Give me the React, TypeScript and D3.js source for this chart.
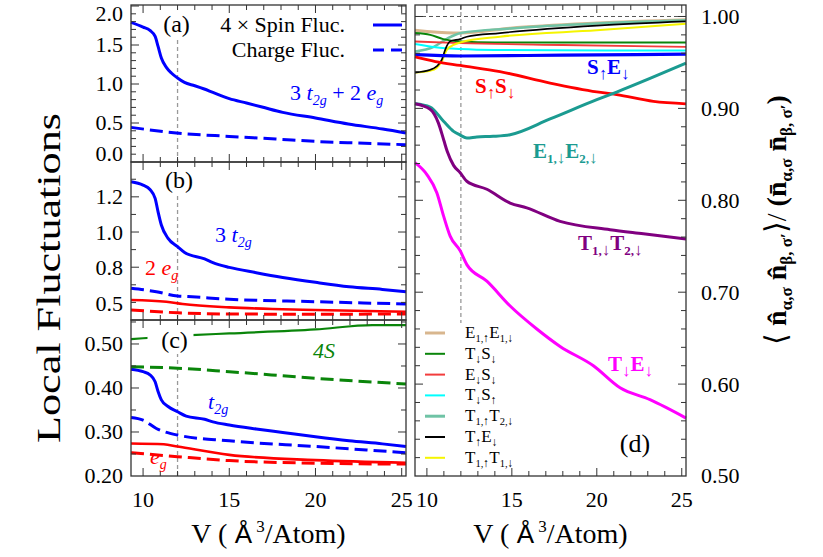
import React from "react";
import * as d3 from "d3";

type Pt = [number, number];

// ---------------- data ----------------
const X_DOMAIN: [number, number] = [9.3, 25.25];
const X_TICK_LABELS = [10, 15, 20, 25];
const V_MARK = 12;

const A_TICKS = [0, 0.5, 1.0, 1.5, 2.0];
const B_TICKS = [0.5, 0.8, 1.0, 1.2];
const C_TICKS = [0.2, 0.3, 0.4, 0.5];
const D_TICKS = [0.5, 0.6, 0.7, 0.8, 0.9, 1.0];

// (a) 3 t2g + 2 eg
const spinTotal: Pt[] = [[9.3,1.79],[10,1.73],[10.4,1.687],[10.7,1.61],[10.87,1.482],[11.06,1.333],[11.35,1.213],[11.64,1.141],[12,1.077],[12.4,1.02],[13,0.978],[13.55,0.936],[14.05,0.892],[15,0.812],[16,0.756],[16.9,0.705],[18.1,0.636],[20,0.564],[21.9,0.487],[23.9,0.423],[25.25,0.372]];
const chargeTotal: Pt[] = [[9.3,0.444],[11.93,0.372],[15,0.328],[17.7,0.295],[20,0.264],[22.3,0.244],[25.25,0.222]];

// (b) 3 t2g and 2 eg
const spinT2g3: Pt[] = [[9.3,1.286],[10,1.267],[10.4,1.242],[10.7,1.191],[10.87,1.115],[11.06,1.04],[11.45,0.964],[12,0.917],[12.41,0.884],[13.57,0.847],[14.05,0.826],[15,0.799],[16.56,0.769],[18.1,0.742],[20,0.714],[21.95,0.689],[23.88,0.674],[25.25,0.661]];
const chargeT2g3: Pt[] = [[9.3,0.68],[10.77,0.661],[12,0.636],[12.6,0.633],[15,0.618],[20,0.604],[25.25,0.591]];
const spinEg2: Pt[] = [[9.3,0.614],[11.35,0.604],[12.3,0.591],[15,0.572],[17.5,0.5625],[20,0.557],[25.25,0.547]];
const chargeEg2: Pt[] = [[9.3,0.557],[12,0.541],[15,0.534],[20,0.533],[25.25,0.534]];

// (c) per orbital
const spinT2g: Pt[] = [[9.3,0.4425],[10,0.437],[10.4,0.43],[10.7,0.414],[10.87,0.392],[11.06,0.373],[11.45,0.358],[12,0.346],[12.5,0.336],[13.57,0.329],[14.05,0.323],[15,0.316],[16.56,0.307],[18.1,0.299],[20,0.289],[21.95,0.28],[23.88,0.273],[25.25,0.267]];
const chargeT2g: Pt[] = [[9.3,0.333],[10,0.327],[10.77,0.308],[12,0.293],[15,0.28],[20,0.267],[25.25,0.253]];
const spinEg: Pt[] = [[9.3,0.274],[11.2,0.272],[12,0.267],[15,0.248],[20,0.236],[25.25,0.23]];
const chargeEg: Pt[] = [[9.3,0.253],[12,0.244],[15,0.235],[20,0.229],[25.25,0.227]];
const spin4S: Pt[] = [[9.3,0.511],[10,0.513],[12.8,0.52],[15,0.524],[20,0.533],[23.3,0.543],[25.25,0.543]];
const charge4S: Pt[] = [[9.3,0.448],[12,0.445],[15,0.437],[20,0.422],[25.25,0.409]];

// (d) correlation ratios
const dE1uE1d: Pt[] = [[9.3,0.985],[11.57,0.982],[12,0.982],[14.9,0.9873],[20,0.9928],[25.25,0.9964]];
const dT1uT2d: Pt[] = [[9.3,0.962],[10.4,0.967],[11.2,0.976],[12,0.982],[14.9,0.987],[20,0.9925],[25.25,0.996]];
const dTdSd: Pt[] = [[9.3,0.982],[10.2,0.98],[10.96,0.9754],[11.96,0.9728],[14,0.9718],[25.25,0.9718]];
const dEdSd: Pt[] = [[9.3,0.9728],[12,0.971],[18,0.969],[25.25,0.967]];
const dTdSu: Pt[] = [[9.3,0.97],[10.5,0.9665],[11.96,0.9645],[14,0.9635],[25.25,0.963]];
const dSuEd: Pt[] = [[9.3,0.9584],[12,0.957],[18,0.958],[25.25,0.959]];
const dSuSd: Pt[] = [[9.3,0.956],[10.5,0.951],[11.96,0.9467],[14.3,0.94],[17.25,0.9276],[20,0.918],[21.17,0.915],[23.33,0.9076],[25.25,0.905]];
const dTuEd: Pt[] = [[9.3,0.939],[10.2,0.942],[10.57,0.9457],[10.88,0.953],[11.08,0.964],[11.37,0.973],[11.96,0.9754],[12.35,0.978],[14.3,0.982],[20,0.99],[25.25,0.9946]];
const dT1uT1d: Pt[] = [[9.3,0.939],[10.2,0.941],[10.57,0.944],[10.88,0.9512],[11.18,0.964],[11.57,0.969],[11.96,0.9717],[14.3,0.978],[20,0.985],[25.25,0.992]];
const dE1dE2d: Pt[] = [[9.3,0.905],[10.19,0.9015],[10.98,0.886],[11.57,0.875],[11.96,0.871],[12.35,0.8678],[12.94,0.8689],[13.9,0.8696],[14.9,0.8714],[17.25,0.8885],[20,0.9095],[21.17,0.9178],[23.13,0.9326],[25.25,0.9493]];
const dT1dT2d: Pt[] = [[9.3,0.905],[10.19,0.899],[10.68,0.884],[11.0,0.865],[11.2,0.853],[11.57,0.838],[11.96,0.83],[12.35,0.8207],[13.53,0.812],[14.9,0.797],[15.88,0.7917],[17.84,0.777],[20.78,0.768],[22.74,0.7636],[25.25,0.758]];
const dTdEd: Pt[] = [[9.3,0.841],[10,0.828],[10.59,0.808],[10.98,0.783],[11.37,0.761],[11.96,0.745],[12.35,0.73],[13.53,0.712],[14.9,0.685],[16.47,0.66],[17.84,0.641],[19.8,0.62],[21.37,0.596],[23.13,0.583],[25.25,0.563]];

const LEGEND_D: [string, string][][] = [
  [["E", "1,↑"], ["E", "1,↓"]],
  [["T", "↓"], ["S", "↓"]],
  [["E", "↓"], ["S", "↓"]],
  [["T", "↓"], ["S", "↑"]],
  [["T", "1,↑"], ["T", "2,↓"]],
  [["T", "↑"], ["E", "↓"]],
  [["T", "1,↑"], ["T", "1,↓"]],
];

// ---------------- styles ----------------
const FONT = "'Liberation Serif','Times New Roman',Times,serif";
const BLUE = "#0000ff";
const RED = "#ff0000";
const GREEN = "#0a850a";
const TEAL = "#1b9b91";
const PURPLE = "#800080";
const MAGENTA = "#ff00ff";
const TAN = "#d8b68e";
const SEAFOAM = "#6fc3a5";
const CYAN = "#00ffff";
const YELLOW = "#f5f500";
const THINRED = "#f23c3c";
const FRAME = "#333";
const DASH = "13,6";

const xL = d3.scaleLinear().domain(X_DOMAIN).range([131, 406]);
const xR = d3.scaleLinear().domain(X_DOMAIN).range([415, 686]);
const yA = d3.scaleLinear().domain([0, 2.013]).range([162, 5]);
const yB = d3.scaleLinear().domain([0.5, 1.398]).range([320, 162]);
const yC = d3.scaleLinear().domain([0.2, 0.5545]).range([476, 320]);
const yD = d3.scaleLinear().domain([0.5, 1.0125]).range([476, 5]);

type Scale = d3.ScaleLinear<number, number>;

function pathOf(x: Scale, y: Scale, data: Pt[]) {
  return (
    d3
      .line<Pt>()
      .x((d) => x(d[0]))
      .y((d) => y(d[1]))
      .curve(d3.curveMonotoneX)(data) || ""
  );
}

function Frame({ id, x, y, yMajor, yMinor }: { id: string; x: Scale; y: Scale; yMajor: number[]; yMinor: number }) {
  const [x0, x1] = x.range();
  const [yb, yt] = y.range();
  const items: any[] = [];
  for (let v = 10; v <= 25; v++) {
    const px = x(v);
    const L = v % 5 === 0 ? 8 : 5;
    items.push(<line key={`xb${v}`} x1={px} x2={px} y1={yb} y2={yb - L} />);
    items.push(<line key={`xt${v}`} x1={px} x2={px} y1={yt} y2={yt + L} />);
  }
  const [d0, d1] = y.domain();
  const n0 = Math.ceil(d0 / yMinor - 1e-6);
  const n1 = Math.floor(d1 / yMinor + 1e-6);
  for (let i = n0; i <= n1; i++) {
    const v = i * yMinor;
    const py = y(v);
    if (py > yb - 0.6 || py < yt + 0.6) continue;
    const major = yMajor.some((m) => Math.abs(m - v) < 1e-6);
    const L = major ? 8 : 5;
    items.push(<line key={`yl${i}`} x1={x0} x2={x0 + L} y1={py} y2={py} />);
    items.push(<line key={`yr${i}`} x1={x1} x2={x1 - L} y1={py} y2={py} />);
  }
  return (
    <g key={id} stroke={FRAME} strokeWidth={1}>
      <rect x={x0} y={yt} width={x1 - x0} height={yb - yt} fill="none" strokeWidth={1.3} />
      {items}
    </g>
  );
}

function LeftTickLabels({ y, ticks, fmt, inset }: { y: Scale; ticks: number[]; fmt: (v: number) => string; inset: number }) {
  const [yb, yt] = y.range();
  return (
    <g fontSize={22} textAnchor="end" fill="#000">
      {ticks.map((t) => {
        let py = y(t);
        if (inset > 0) py = Math.max(yt + 9, Math.min(yb - inset, py));
        return (
          <text key={t} x={123} y={py} dy="0.34em">
            {fmt(t)}
          </text>
        );
      })}
    </g>
  );
}

const ARROWS = "↑↓";

function Formula({ x, y, parts, size, color, bold, arrowScale }: { x: number; y: number; parts: [string, string][]; size: number; color: string; bold?: boolean; arrowScale?: number }) {
  const sub = size * 0.62;
  const arrow = size * (arrowScale || 0.8);
  const off = size * 0.24;
  const kids: any[] = [];
  parts.forEach(([m, s], i) => {
    kids.push(
      <tspan key={"m" + i} dy={i === 0 ? 0 : -off}>
        {m}
      </tspan>
    );
    Array.from(s).forEach((ch, j) => {
      const isArrow = ARROWS.includes(ch);
      kids.push(
        <tspan key={"s" + i + "_" + j} fontSize={isArrow ? arrow : sub} fontWeight={isArrow ? "normal" : undefined} dy={j === 0 ? off : 0}>
          {ch}
        </tspan>
      );
    });
  });
  return (
    <text x={x} y={y} fontSize={size} fill={color} fontWeight={bold ? "bold" : "normal"}>
      {kids}
    </text>
  );
}

function PanelLabel({ cx, y, text, bg }: { cx: number; y: number; text: string; bg?: boolean }) {
  return (
    <g>
      {bg ? <rect x={cx - 27} y={y - 20} width={46} height={26} fill="#fff" /> : null}
      <text x={cx} y={y} fontSize={24} textAnchor="middle" fill="#000">
        {text}
      </text>
    </g>
  );
}

export default function App() {
  const f1 = d3.format(".1f");
  const f2 = d3.format(".2f");

  const lines = (x: Scale, y: Scale, data: Pt[], color: string, w: number, dashed?: boolean, key?: string) => (
    <path key={key} d={pathOf(x, y, data)} fill="none" stroke={color} strokeWidth={w} strokeDasharray={dashed ? DASH : undefined} strokeLinejoin="round" />
  );

  const dSeries: { data: Pt[]; color: string; w: number }[] = [
    { data: dE1uE1d, color: TAN, w: 3 },
    { data: dT1uT2d, color: SEAFOAM, w: 2.5 },
    { data: dTdSd, color: GREEN, w: 2 },
    { data: dEdSd, color: THINRED, w: 1.8 },
    { data: dTdSu, color: CYAN, w: 2 },
    { data: dT1uT1d, color: YELLOW, w: 2 },
    { data: dTuEd, color: "#000", w: 1.7 },
    { data: dSuEd, color: BLUE, w: 3.2 },
    { data: dSuSd, color: RED, w: 2.8 },
    { data: dE1dE2d, color: TEAL, w: 3 },
    { data: dT1dT2d, color: PURPLE, w: 3 },
    { data: dTdEd, color: MAGENTA, w: 3 },
  ];
  const legendColors = [TAN, GREEN, THINRED, CYAN, SEAFOAM, "#000", YELLOW];
  const legendWidths = [3, 2, 2, 2, 3, 2, 2];

  const vLine = (x: Scale, y0: number, y1: number, key: string) => (
    <line key={key} x1={x(V_MARK)} x2={x(V_MARK)} y1={y0} y2={y1} stroke="#999" strokeWidth={1.3} strokeDasharray="4,3" />
  );

  return (
    <svg width={823} height={557} style={{ position: "absolute", left: 0, top: 0, background: "#fff" }} fontFamily={FONT}>
      <rect x={0} y={0} width={823} height={557} fill="#fff" />

      {/* dashed guides */}
      {vLine(xL, 40, 162, "va")}
      {vLine(xL, 196, 320, "vb")}
      {vLine(xL, 353, 476, "vc")}
      {vLine(xR, 5, 323, "vd")}
      <line x1={xR.range()[0]} x2={xR.range()[1]} y1={yD(1.0)} y2={yD(1.0)} stroke="#555" strokeWidth={1} strokeDasharray="4,3" />

      {/* panel (a) */}
      {lines(xL, yA, chargeTotal, BLUE, 3, true, "a2")}
      {lines(xL, yA, spinTotal, BLUE, 3, false, "a1")}
      {/* panel (b) */}
      {lines(xL, yB, chargeEg2, RED, 3, true, "b4")}
      {lines(xL, yB, spinEg2, RED, 2.6, false, "b3")}
      {lines(xL, yB, chargeT2g3, BLUE, 3, true, "b2")}
      {lines(xL, yB, spinT2g3, BLUE, 3, false, "b1")}
      {/* panel (c) */}
      {lines(xL, yC, chargeEg, RED, 3, true, "c6")}
      {lines(xL, yC, spinEg, RED, 2.6, false, "c5")}
      {lines(xL, yC, chargeT2g, BLUE, 3, true, "c4")}
      {lines(xL, yC, spinT2g, BLUE, 3, false, "c3")}
      {lines(xL, yC, charge4S, GREEN, 3, true, "c2")}
      {lines(xL, yC, spin4S, GREEN, 2.2, false, "c1")}
      {/* panel (d) */}
      {dSeries.map((s, i) => lines(xR, yD, s.data, s.color, s.w, false, "d" + i))}

      {/* frames */}
      <Frame id="fa" x={xL} y={yA} yMajor={A_TICKS} yMinor={0.1} />
      <Frame id="fb" x={xL} y={yB} yMajor={B_TICKS} yMinor={0.1} />
      <Frame id="fc" x={xL} y={yC} yMajor={C_TICKS} yMinor={0.05} />
      <Frame id="fd" x={xR} y={yD} yMajor={D_TICKS} yMinor={0.02} />

      {/* tick labels */}
      <LeftTickLabels y={yA} ticks={A_TICKS} fmt={f1} inset={8} />
      <LeftTickLabels y={yB} ticks={B_TICKS} fmt={f1} inset={16} />
      <LeftTickLabels y={yC} ticks={C_TICKS} fmt={f2} inset={0} />
      <g fontSize={22} fill="#000">
        {D_TICKS.map((t) => (
          <text key={t} x={701} y={yD(t)} dy="0.34em">
            {f2(t)}
          </text>
        ))}
      </g>
      <g fontSize={22} fill="#000" textAnchor="middle">
        {X_TICK_LABELS.map((t) => (
          <text key={"l" + t} x={xL(t)} y={507}>
            {t}
          </text>
        ))}
        {X_TICK_LABELS.map((t) => (
          <text key={"r" + t} x={xR(t)} y={507}>
            {t}
          </text>
        ))}
      </g>

      {/* axis titles */}
      {[xL, xR].map((x, i) => {
        const [a, b] = x.range();
        return (
          <text key={"xt" + i} x={(a + b) / 2} y={543} fontSize={28} textAnchor="middle" fill="#000">
            <tspan>V (</tspan>
            <tspan fontFamily="'Liberation Sans',Arial,sans-serif" fontSize={26}>{" Å"}</tspan>
            <tspan fontSize={17} dy={-11}>{" 3"}</tspan>
            <tspan dy={11}>/Atom)</tspan>
          </text>
        );
      })}
      <text transform="translate(60,278) rotate(-90)" textAnchor="middle" fontSize={34} fill="#000" textLength={330} lengthAdjust="spacingAndGlyphs">
        Local Fluctuations
      </text>
      <text transform="translate(786,220) rotate(-90)" textAnchor="middle" fontSize={28} fontWeight="bold" fill="#000">
        <tspan fontWeight="normal" fontSize={30}>⟨</tspan>
        <tspan>{" n\u0302"}</tspan>
        <tspan fontSize={17} dy={6}>α,σ</tspan>
        <tspan dy={-6}>{" n\u0302"}</tspan>
        <tspan fontSize={17} dy={6}>β, σ′</tspan>
        <tspan dy={-6} fontWeight="normal" fontSize={30}>⟩</tspan>
        <tspan fontWeight="normal">/</tspan>
        <tspan>{" (n\u0304"}</tspan>
        <tspan fontSize={17} dy={6}>α,σ</tspan>
        <tspan dy={-6}>{" n\u0304"}</tspan>
        <tspan fontSize={17} dy={6}>β, σ′</tspan>
        <tspan dy={-6}>)</tspan>
      </text>

      {/* panel labels */}
      <PanelLabel cx={176.5} y={32} text="(a)" />
      <PanelLabel cx={179} y={188} text="(b)" />
      <PanelLabel cx={174.5} y={348} text="(c)" bg />
      <text x={635} y={452} fontSize={26} textAnchor="middle" fill="#000">
        (d)
      </text>

      {/* legend (a) */}
      <g fontSize={22} fill="#000" textAnchor="end">
        <text x={345} y={32}>4 × Spin Fluc.</text>
        <text x={345} y={57}>Charge Fluc.</text>
      </g>
      <line x1={373} x2={402} y1={25} y2={25} stroke={BLUE} strokeWidth={3} />
      <line x1={373} x2={402} y1={50} y2={50} stroke={BLUE} strokeWidth={3} strokeDasharray="11,7" />

      {/* in-panel labels */}
      <text x={290} y={100} fontSize={22} fill={BLUE}>
        <tspan>3 </tspan>
        <tspan fontStyle="italic">t</tspan>
        <tspan fontStyle="italic" fontSize={14} dy={5}>2g</tspan>
        <tspan dy={-5}> + 2 </tspan>
        <tspan fontStyle="italic">e</tspan>
        <tspan fontStyle="italic" fontSize={14} dy={5}>g</tspan>
      </text>
      <text x={215} y={242} fontSize={22} fill={BLUE}>
        <tspan>3 </tspan>
        <tspan fontStyle="italic">t</tspan>
        <tspan fontStyle="italic" fontSize={14} dy={5}>2g</tspan>
      </text>
      <text x={145} y={275} fontSize={22} fill={RED}>
        <tspan>2 </tspan>
        <tspan fontStyle="italic">e</tspan>
        <tspan fontStyle="italic" fontSize={14} dy={5}>g</tspan>
      </text>
      <text x={313} y={358} fontSize={22} fill={GREEN} fontStyle="italic">
        4S
      </text>
      <text x={208} y={409} fontSize={22} fill={BLUE} fontStyle="italic">
        <tspan>t</tspan>
        <tspan fontSize={14} dy={5}>2g</tspan>
      </text>
      <text x={150} y={464} fontSize={22} fill={RED} fontStyle="italic">
        <tspan>e</tspan>
        <tspan fontSize={14} dy={5}>g</tspan>
      </text>

      {/* labels in (d) */}
      <Formula x={587} y={74} parts={[["S", "↑"], ["E", "↓"]]} size={21} color={BLUE} bold />
      <Formula x={475} y={93} parts={[["S", "↑"], ["S", "↓"]]} size={21} color={RED} bold />
      <Formula x={533} y={158} parts={[["E", "1,↓"], ["E", "2,↓"]]} size={21} color={TEAL} bold />
      <Formula x={578} y={250} parts={[["T", "1,↓"], ["T", "2,↓"]]} size={21} color={PURPLE} bold />
      <Formula x={608} y={371} parts={[["T", "↓"], ["E", "↓"]]} size={21} color={MAGENTA} bold />

      {/* legend (d) */}
      {LEGEND_D.map((parts, i) => {
        const cy = 333 + i * 20.8;
        return (
          <g key={"lg" + i}>
            <line x1={425} x2={445} y1={cy} y2={cy} stroke={legendColors[i]} strokeWidth={legendWidths[i]} />
            <Formula x={465} y={cy + 5} parts={parts} size={17} color="#000" arrowScale={0.7} />
          </g>
        );
      })}
    </svg>
  );
}
